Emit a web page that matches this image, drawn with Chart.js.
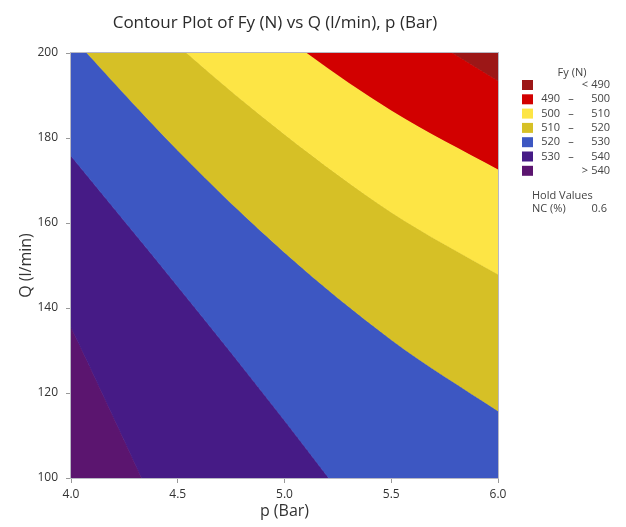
<!DOCTYPE html>
<html>
<head>
<meta charset="utf-8">
<script src="https://cdn.jsdelivr.net/npm/chart.js@4.4.1/dist/chart.umd.min.js"></script>
<style>
  html, body { margin: 0; padding: 0; background: #fff; }
  #wrap { width: 626px; height: 527px; }
</style>
</head>
<body>
<div id="wrap"><canvas id="contour" width="626" height="527"></canvas></div>
<script>
// contour lines of Fy (N), read off the plot as p (Bar) -> Q (l/min)
// points past 4..6 / 100..200 only carry the curve beyond the frame
const line490P = [4.5, 5.0, 5.5, 6.0];
const line490Q = [245, 226, 209, 193.4];
const line500P = [4.0, 4.5, 5.0, 5.5, 6.0];
const line500Q = [250, 226, 204, 186.5, 172.6];
const line510P = [4.0, 4.5, 5.0, 5.5, 6.0];
const line510Q = [225, 201.8, 180.8, 162.5, 147.9];
const line520P = [4.0, 4.5, 5.0, 5.5, 6.0];
const line520Q = [204, 177, 153, 132.5, 115.7];
const line530P = [4.0, 4.5, 5.0, 5.5, 6.0];
const line530Q = [175.7, 145, 113.5, 80.5, 48];
const line540P = [4.0, 4.165, 4.33, 4.5, 4.66, 6.0];
const line540Q = [135.4, 117.9, 100, 81, 62, -100];

// legend bands
const bandFrom = [null, 490, 500, 510, 520, 530, 540];
const bandTo = [490, 500, 510, 520, 530, 540, null];
const bandColors = ['#9c1717', '#d20000', '#fde545', '#d6c026', '#3d57c2', '#461b86', '#5b156f'];

const xTicks = [4.0, 4.5, 5.0, 5.5, 6.0];
const yTicks = [100, 120, 140, 160, 180, 200];
const holdName = 'NC (%)';
const holdValue = 0.6;

const FONT = '"Open Sans", "Noto Sans", sans-serif';
const TXT = '#333';

function pts(P, Q) {
  return P.map((p, i) => ({ x: p, y: Q[i] }));
}

function band(data, fill, color, bw) {
  return {
    data: data,
    fill: fill,
    backgroundColor: color,
    borderColor: color,
    borderWidth: bw,
    pointRadius: 0,
    cubicInterpolationMode: 'monotone',
    capBezierPoints: false
  };
}

const datasets = [
  band(pts(line490P, line490Q), 'end', bandColors[0], 0),
  band(pts(line490P, line490Q), '+1', bandColors[1], 1),
  band(pts(line500P, line500Q), '+1', bandColors[2], 1),
  band(pts(line510P, line510Q), '+1', bandColors[3], 1),
  band(pts(line520P, line520Q), '+1', bandColors[4], 1),
  band(pts(line530P, line530Q), '+1', bandColors[5], 1),
  band(pts(line540P, line540Q), 'start', bandColors[6], 1)
];

// title, frame and the side legend
const extras = {
  id: 'extras',
  afterDatasetsDraw(chart) {
    const { ctx, chartArea: a } = chart;
    ctx.save();
    ctx.strokeStyle = '#b8b8c4';
    ctx.lineWidth = 1;
    ctx.strokeRect(a.left - 0.5, a.top - 0.5, a.right - a.left + 1, a.bottom - a.top + 1);
    ctx.restore();
  },
  afterDraw(chart) {
    const ctx = chart.ctx;
    ctx.save();
    ctx.fillStyle = '#2b2b2b';
    ctx.textBaseline = 'middle';
    ctx.textAlign = 'center';
    ctx.font = '17px ' + FONT;
    ctx.fillText('Contour Plot of Fy (N) vs Q (l/min), p (Bar)', 275, 23);

    ctx.font = '11px ' + FONT;
    ctx.fillStyle = '#444';
    ctx.fillText('Fy (N)', 572, 73);
    for (let i = 0; i < bandColors.length; i++) {
      const y = 85 + i * 14.3;
      ctx.fillStyle = bandColors[i];
      ctx.fillRect(522, y - 5, 11, 10);
      ctx.fillStyle = '#444';
      if (bandFrom[i] === null) {
        ctx.textAlign = 'center';
        ctx.fillText('<', 585, y);
        ctx.textAlign = 'right';
        ctx.fillText(String(bandTo[i]), 610, y);
      } else if (bandTo[i] === null) {
        ctx.textAlign = 'center';
        ctx.fillText('>', 585, y);
        ctx.textAlign = 'right';
        ctx.fillText(String(bandFrom[i]), 610, y);
      } else {
        ctx.textAlign = 'right';
        ctx.fillText(String(bandFrom[i]), 560, y);
        ctx.textAlign = 'center';
        ctx.fillText('–', 571, y);
        ctx.textAlign = 'right';
        ctx.fillText(String(bandTo[i]), 610, y);
      }
    }
    ctx.textAlign = 'left';
    ctx.fillText('Hold Values', 532, 196);
    ctx.fillText(holdName, 532, 209);
    ctx.textAlign = 'right';
    ctx.fillText(holdValue.toFixed(1), 607, 209);
    ctx.restore();
  }
};

window.onload = function () {
  const ctx = document.getElementById('contour').getContext('2d');
  new Chart(ctx, {
    type: 'line',
    data: { datasets: datasets },
    options: {
      responsive: false,
      animation: false,
      events: [],
      layout: { padding: { top: 53, right: 128, bottom: 0, left: 0 } },
      plugins: {
        legend: { display: false },
        title: { display: false },
        tooltip: { enabled: false }
      },
      scales: {
        x: {
          type: 'linear',
          min: 4,
          max: 6,
          afterFit: s => { s.height = 49; },
          afterBuildTicks: s => { s.ticks = xTicks.map(v => ({ value: v })); },
          ticks: {
            color: TXT,
            padding: 4,
            font: { family: FONT, size: 12 },
            callback: v => Number(v).toFixed(1)
          },
          grid: { drawOnChartArea: false, drawTicks: true, tickLength: 5, color: '#999' },
          border: { display: true, color: '#999' },
          title: {
            display: true,
            text: 'p (Bar)',
            color: TXT,
            font: { family: FONT, size: 16 },
            padding: { top: 0, bottom: 6 }
          }
        },
        y: {
          type: 'linear',
          min: 100,
          max: 200,
          afterFit: s => { s.width = 71; },
          afterBuildTicks: s => { s.ticks = yTicks.map(v => ({ value: v })); },
          ticks: {
            color: TXT,
            padding: 8,
            font: { family: FONT, size: 12 }
          },
          grid: { drawOnChartArea: false, drawTicks: true, tickLength: 5, color: '#999' },
          border: { display: true, color: '#999' },
          title: {
            display: true,
            text: 'Q (l/min)',
            color: TXT,
            font: { family: FONT, size: 16 },
            padding: { top: 17, bottom: 0 }
          }
        }
      }
    },
    plugins: [extras]
  });
};
</script>
</body>
</html>
